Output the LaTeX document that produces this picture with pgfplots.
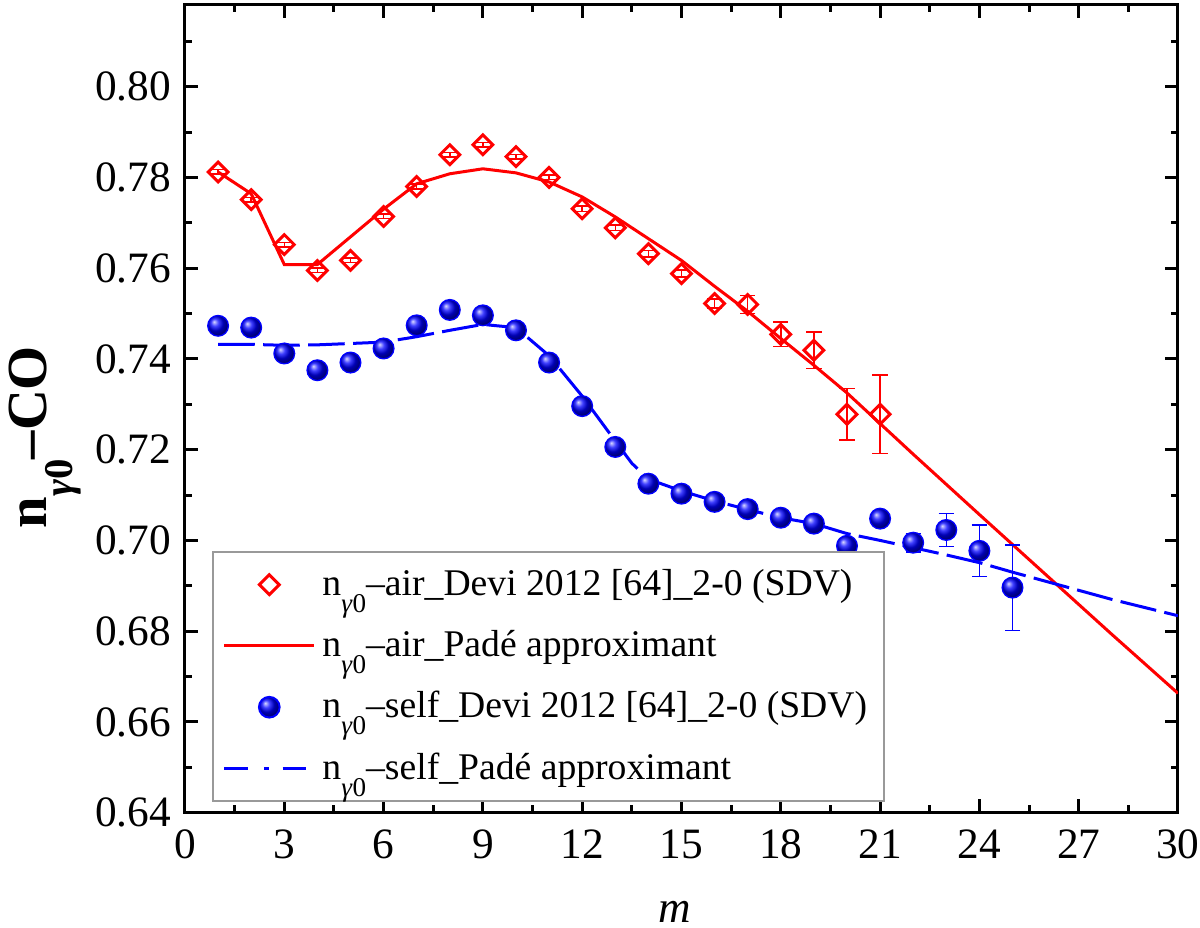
\documentclass[border=0pt]{standalone}
\usepackage{fontspec}
\setmainfont{Liberation Serif}
\usepackage{graphicx}
\usepackage{pgfplots}
\pgfplotsset{compat=1.18}
\usepackage{pgfplotstable}

\newcommand{\ngz}{n\raisebox{-0.45em}{\scalebox{0.72}{\textit{γ}0}}}

\pgfplotstableread{
m v e
1 0.7812 0.0005
2 0.7751 0.0005
3 0.7652 0.0005
4 0.7595 0.0005
5 0.7617 0.0005
6 0.7714 0.0005
7 0.7780 0.0005
8 0.7850 0.0005
9 0.7872 0.0005
10 0.7846 0.0005
11 0.7800 0.0005
12 0.7731 0.0006
13 0.7689 0.0006
14 0.7632 0.0007
15 0.7588 0.0008
16 0.7522 0.0010
17 0.7520 0.0020
18 0.7454 0.0027
19 0.7419 0.0040
20 0.7278 0.0057
21 0.7278 0.0087
}\airdata

\pgfplotstableread{
m v
1 0.7812
2 0.7764
3 0.7608
4 0.7608
5 0.7669
6 0.7730
7 0.7786
8 0.7808
9 0.7819
10 0.7810
11 0.7790
12 0.7757
13 0.7713
14 0.7665
15 0.7617
16 0.7560
17 0.7505
18 0.7445
19 0.7386
20 0.7325
22 0.7190
24 0.7057
26 0.6925
28 0.6793
30 0.6663
}\airfit

\pgfplotstableread{
m v e
1 0.7473 0
2 0.7469 0
3 0.7412 0
4 0.7375 0
5 0.7392 0
6 0.7423 0
7 0.7474 0
8 0.7508 0
9 0.7496 0
10 0.7463 0
11 0.7392 0
12 0.7296 0
13 0.7206 0
14 0.7125 0
15 0.7103 0
16 0.7085 0
17 0.7069 0
18 0.7050 0
19 0.7037 0
20 0.6988 0
21 0.7048 0
22 0.6995 0.0020
23 0.7023 0.0036
24 0.6977 0.0057
25 0.6896 0.0094
}\selfdata

\pgfplotstableread{
m v
1 0.7432
2 0.7432
3 0.7430
4 0.7431
5 0.7434
6 0.7437
7 0.7449
8 0.7463
9 0.7476
10 0.7469
11 0.7407
12 0.7318
13 0.7219
13.5 0.7170
14 0.7135
15 0.7109
16 0.7087
17 0.7068
18 0.7050
19 0.7037
20 0.7015
21 0.7000
22 0.6984
23 0.6968
24 0.6951
25 0.6930
26 0.6910
27 0.6890
28 0.6870
29 0.6852
30 0.6834
}\selffit

\begin{document}
\begin{tikzpicture}
\useasboundingbox (-55.5pt,-34.6pt) rectangle (304.5pt,243.8pt);
\begin{axis}[
  scale only axis, width=297.9pt, height=242.3pt,
  at={(0pt,0pt)}, anchor=south west,
  xmin=0, xmax=30, ymin=0.64, ymax=0.818,
  xtick={0,3,6,9,12,15,18,21,24,27,30},
  ytick={0.64,0.66,0.68,0.70,0.72,0.74,0.76,0.78,0.80},
  minor xtick={1.5,4.5,7.5,10.5,13.5,16.5,19.5,22.5,25.5,28.5},
  minor ytick={0.65,0.67,0.69,0.71,0.73,0.75,0.77,0.79,0.81},
  tick align=inside,
  major tick length=4pt, minor tick length=2.2pt,
  axis line style={line width=0.9pt},
  every tick/.style={black, line width=0.9pt},
  /pgf/number format/assume math mode=true,
  tick label style={font=\fontsize{13}{15}\selectfont},
  yticklabel style={xshift=-0.7pt, /pgf/number format/fixed, /pgf/number format/fixed zerofill, /pgf/number format/precision=2},
  xticklabel style={yshift=-1.7pt},
  xlabel={\textit{m}},
  ylabel={\bfseries \ngz–CO},
  every axis x label/.style={at={(axis description cs:0.493,0)}, yshift=-33pt, anchor=base, font=\fontsize{13.5}{15}\selectfont},
  every axis y label/.style={at={(axis description cs:0,0.465)}, xshift=-41.5pt, rotate=90, anchor=base, font=\fontsize{17}{19}\selectfont},
  legend style={at={(0.027,0.013)}, anchor=south west, draw=gray!80, line width=0.6pt,
    font=\fontsize{11.3}{13.5}\selectfont, row sep=5pt, inner xsep=3pt, inner ysep=3pt},
  legend cell align=left,
  legend image code/.code={\draw[mark repeat=2,mark phase=2,#1] plot coordinates {(0pt,0pt)(13.5pt,0pt)(27pt,0pt)};},
]
\addplot[only marks, red, mark=square, mark size=2.1pt,
  mark options={rotate=45, line width=0.9pt, red},
  error bars/.cd, y dir=both, y explicit,
  error bar style={red, line width=0.45pt},
  error mark options={rotate=90, red, mark size=2.3pt, line width=0.45pt}]
  table[x=m, y=v, y error=e] {\airdata};
\addlegendentry{\ngz–air\_Devi 2012 [64]\_2-0 (SDV)}

\addplot[red, line width=0.9pt, no marks] table[x=m, y=v] {\airfit};
\addlegendentry{\ngz–air\_Padé approximant}

\addplot[only marks, blue, mark=ball, ball color=blue, mark size=3.1pt,
  error bars/.cd, y dir=both, y explicit,
  error bar style={blue, line width=0.45pt},
  error mark options={rotate=90, blue, mark size=2.3pt, line width=0.45pt}]
  table[x=m, y=v, y error=e] {\selfdata};
\addlegendentry{\ngz–self\_Devi 2012 [64]\_2-0 (SDV)}

\addplot[blue, line width=0.9pt, no marks, dash pattern=on 11pt off 2.5pt,
  legend image code/.code={\draw[blue, line width=0.9pt, dash pattern=on 7pt off 5pt on 1.5pt off 4pt] (0pt,0pt) -- (27pt,0pt);}]
  table[x=m, y=v] {\selffit};
\addlegendentry{\ngz–self\_Padé approximant}
\end{axis}
\end{tikzpicture}
\end{document}
